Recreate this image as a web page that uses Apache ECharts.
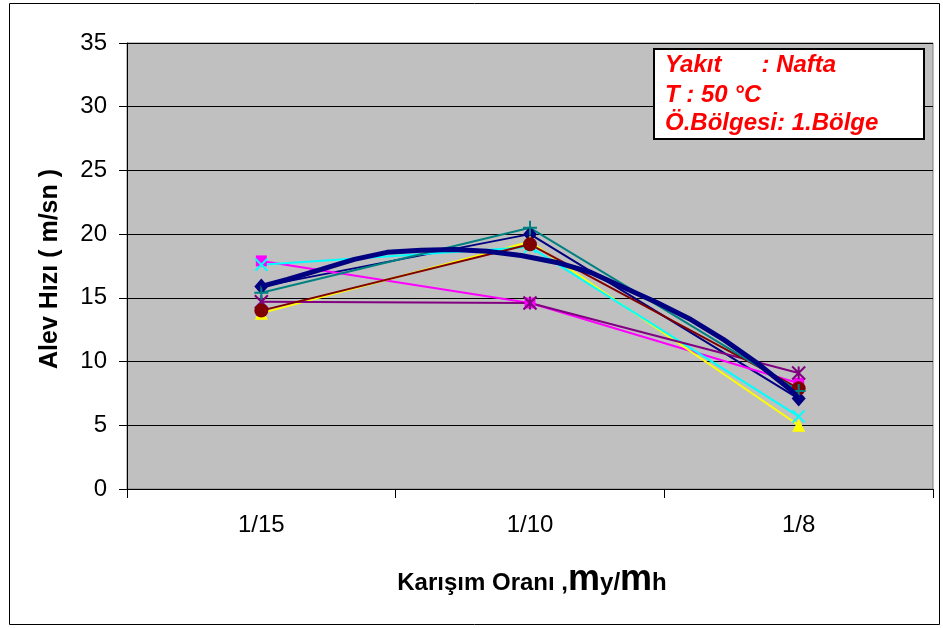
<!DOCTYPE html>
<html>
<head>
<meta charset="utf-8">
<script src="https://cdn.jsdelivr.net/npm/echarts@6/dist/echarts.min.js"></script>
<style>
  html, body { margin: 0; padding: 0; background: #ffffff; }
  #chart { width: 943px; height: 628px; }
</style>
</head>
<body>
<div id="chart"></div>
<script>
// Mixture ratios on the category axis
const categories = ['1/15', '1/10', '1/8'];

// Flame speed (m/sn) for each measurement series
const seriesNavy    = [15.9, 20.0, 7.1];
const seriesMagenta = [17.9, 14.6, 8.3];
const seriesYellow  = [13.8, 19.4, 5.0];
const seriesCyan    = [17.6, 19.0, 5.7];
const seriesPurple  = [14.7, 14.6, 9.1];
const seriesMaroon  = [14.0, 19.2, 7.9];
const seriesTeal    = [15.4, 20.5, 7.7];

// Fitted trend curve: position along the category axis (0 = 1/15, 2 = 1/8) and speed
const trendX = [0, 0.097, 0.223, 0.346, 0.468, 0.595, 0.717, 0.840, 0.967, 1.100,
                1.227, 1.349, 1.472, 1.599, 1.721, 1.844, 1.970, 2.0];
const trendY = [15.9, 16.44, 17.23, 18.02, 18.57, 18.73, 18.80, 18.65, 18.33, 17.78,
                16.99, 15.81, 14.63, 13.30, 11.72, 9.91, 7.79, 7.1];

// Value axis range
const yMin = 0, yMax = 35, yStep = 5;

const FONT = '"Liberation Sans", Arial, sans-serif';

const SYM_X = 'path://M0,0L10,10M10,0L0,10';
const SYM_STAR = 'path://M0,0L10,10M10,0L0,10M5,0L5,10';
const SYM_PLUS = 'path://M5,0L5,10M0,5L10,5';

function lineSeries(name, data, color, symbol, size, stroked) {
  return {
    name: name,
    type: 'line',
    xAxisIndex: 0,
    data: data,
    symbol: symbol,
    symbolSize: size,
    showAllSymbol: true,
    lineStyle: { color: color, width: 2 },
    itemStyle: stroked
      ? { color: color, borderColor: color, borderWidth: 2 }
      : { color: color, borderWidth: 0 },
    emphasis: { disabled: true },
    animation: false,
    z: 3
  };
}

const chart = echarts.init(document.getElementById('chart'), null, { renderer: 'canvas' });

chart.setOption({
  animation: false,
  grid: {
    left: 127, right: 10, top: 43, bottom: 139,
    show: true,
    backgroundColor: '#C0C0C0',
    borderColor: '#808080',
    borderWidth: 1
  },
  xAxis: [
    {
      type: 'category',
      data: categories,
      boundaryGap: true,
      axisLine: { show: true, onZero: false, lineStyle: { color: '#000000', width: 1 } },
      axisTick: { show: true, length: 9, inside: false, lineStyle: { color: '#000000' } },
      axisLabel: { color: '#000000', fontFamily: FONT, fontSize: 24, margin: 24 },
      splitLine: { show: false }
    },
    {
      type: 'value',
      min: -0.5,
      max: 2.5,
      show: false,
      splitLine: { show: false }
    }
  ],
  yAxis: {
    type: 'value',
    min: yMin,
    max: yMax,
    interval: yStep,
    axisLine: { show: true, onZero: false, lineStyle: { color: '#000000', width: 1 } },
    axisTick: { show: true, length: 8, inside: false, lineStyle: { color: '#000000' } },
    axisLabel: { color: '#000000', fontFamily: FONT, fontSize: 24, margin: 20 },
    splitLine: { show: true, lineStyle: { color: '#000000', width: 1 } }
  },
  series: [
    lineSeries('s1', seriesNavy, '#000080', 'diamond', [14, 16], false),
    lineSeries('s2', seriesMagenta, '#FF00FF', 'rect', 11, false),
    lineSeries('s3', seriesYellow, '#FFFF00', 'triangle', 13, false),
    lineSeries('s4', seriesCyan, '#00FFFF', SYM_X, 12, true),
    lineSeries('s5', seriesPurple, '#800080', SYM_STAR, 13, true),
    lineSeries('s6', seriesMaroon, '#800000', 'circle', 14, false),
    lineSeries('s7', seriesTeal, '#008080', SYM_PLUS, 14, true),
    {
      name: 'trend',
      type: 'line',
      xAxisIndex: 1,
      data: trendX.map((x, i) => [x, trendY[i]]),
      symbol: 'none',
      lineStyle: { color: '#000080', width: 5 },
      emphasis: { disabled: true },
      z: 4
    }
  ],
  graphic: [
    {
      type: 'rect',
      shape: { x: 9.5, y: 3.5, width: 930, height: 621 },
      style: { fill: 'none', stroke: '#000000', lineWidth: 1 },
      silent: true, z: 0
    },
    {
      type: 'rect',
      shape: { x: 654, y: 49, width: 270, height: 90 },
      style: { fill: '#ffffff', stroke: '#000000', lineWidth: 2 },
      silent: true, z: 10
    },
    {
      type: 'text', x: 665, y: 65, z: 11, silent: true,
      style: { text: 'Yakıt      : Nafta', fill: '#FF0000', font: 'italic bold 24px ' + FONT, verticalAlign: 'middle' }
    },
    {
      type: 'text', x: 665, y: 95, z: 11, silent: true,
      style: { text: 'T : 50 °C', fill: '#FF0000', font: 'italic bold 24px ' + FONT, verticalAlign: 'middle' }
    },
    {
      type: 'text', x: 665, y: 123, z: 11, silent: true,
      style: { text: 'Ö.Bölgesi: 1.Bölge', fill: '#FF0000', font: 'italic bold 24px ' + FONT, verticalAlign: 'middle' }
    },
    {
      type: 'text', x: 50, y: 269, rotation: Math.PI / 2, z: 11, silent: true,
      style: { text: 'Alev Hızı ( m/sn )', fill: '#000000', font: 'bold 25px ' + FONT, align: 'center', verticalAlign: 'middle' }
    },
    {
      type: 'text', x: 532, y: 580, z: 11, silent: true,
      style: {
        text: '{a|Karışım Oranı ,}{m|m}{a|y/}{m|m}{a|h}',
        align: 'center',
        verticalAlign: 'middle',
        rich: {
          a: { fontFamily: FONT, fontWeight: 'bold', fontSize: 24, fill: '#000000', verticalAlign: 'bottom', lineHeight: 36, padding: [0, 0, 3, 0] },
          m: { fontFamily: FONT, fontWeight: 'bold', fontSize: 36, fill: '#000000', verticalAlign: 'bottom', lineHeight: 36 }
        }
      }
    }
  ]
});
</script>
</body>
</html>
